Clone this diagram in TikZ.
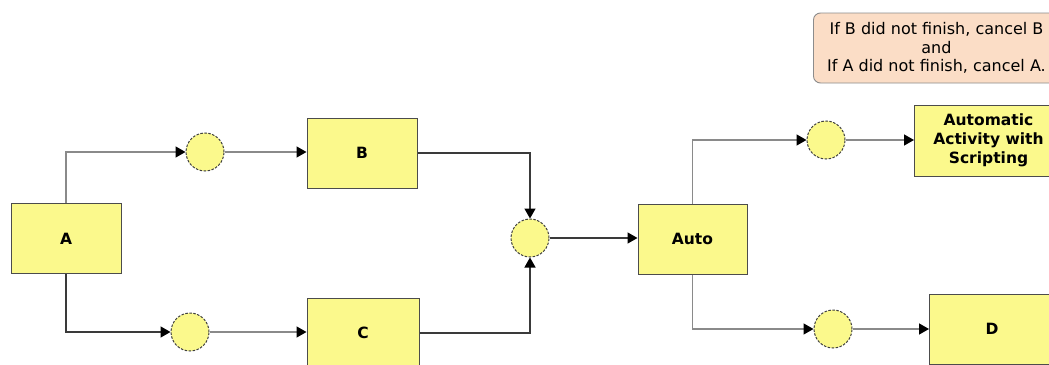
\documentclass[tikz,border=0pt]{standalone}
\usepackage{fontspec}
\setmainfont{DejaVu Sans}
\usetikzlibrary{arrows.meta}
\definecolor{boxfill}{HTML}{FBF98C}
\definecolor{notefill}{HTML}{FBDDC6}
\definecolor{linegray}{HTML}{8A8A8A}
\definecolor{linedark}{HTML}{3A3A3A}
\begin{document}
\begin{tikzpicture}[x=1pt,y=-1pt,
  act/.style={draw=black!70, line width=1pt, fill=boxfill, minimum width=110pt, minimum height=70pt, inner sep=0pt, font=\bfseries\fontsize{15.5}{19}\selectfont, align=center},
  evt/.style={circle, draw=black!75, line width=1pt, dash pattern=on 2.5pt off 1.5pt, fill=boxfill, minimum size=38pt, inner sep=0pt},
  flow/.style={draw=linegray, line width=1.4pt, -{Triangle[length=10pt,width=11pt,color=black]}},
  dflow/.style={flow, draw=linedark},
  note/.style={draw=black!45, line width=0.9pt, fill=notefill, rounded corners=7pt, minimum width=246pt, minimum height=70pt, inner sep=0pt, align=center, font=\fontsize{16}{18.5}\selectfont}
]
\useasboundingbox (0,0) rectangle (1049,364);
\fill[white] (0,0) rectangle (1049,364);
% activities
\node[act] (A) at (66,238.5) {A};
\node[act] (B) at (362,153) {B};
\node[act, minimum width=112pt] (C) at (363,333) {C};
\node[act, minimum width=109pt] (auto) at (692.5,239) {Auto};
\node[act, anchor=west, minimum width=148pt, minimum height=71pt] (S) at (914,140.5) {Automatic\\Activity with\\Scripting};
\node[act, anchor=west, minimum width=125pt] (D) at (929,329) {D};
% events
\node[evt] (c1) at (205,152) {};
\node[evt] (c2) at (190,332) {};
\node[evt] (m) at (530,238) {};
\node[evt] (c3) at (826,140) {};
\node[evt] (c4) at (833,329) {};
% note
\node[note, anchor=west] (nt) at (813,48) {If B did not finish, cancel B\\and\\If A did not finish, cancel A.};
% connectors
\draw[flow] (A.north) |- (c1.west);
\draw[flow] (c1.east) -- (c1.east -| B.west);
\draw[dflow] (B.east) -| (m.north);
\draw[dflow] (A.south) |- (c2.west);
\draw[flow] (c2.east) -- (c2.east -| C.west);
\draw[dflow] (C.east) -| (m.south);
\draw[dflow] (m.east) -- (m.east -| auto.west);
\draw[flow] (auto.north) |- (c3.west);
\draw[flow] (c3.east) -- (c3.east -| S.west);
\draw[flow] (auto.south) |- (c4.west);
\draw[flow] (c4.east) -- (c4.east -| D.west);
\end{tikzpicture}
\end{document}
